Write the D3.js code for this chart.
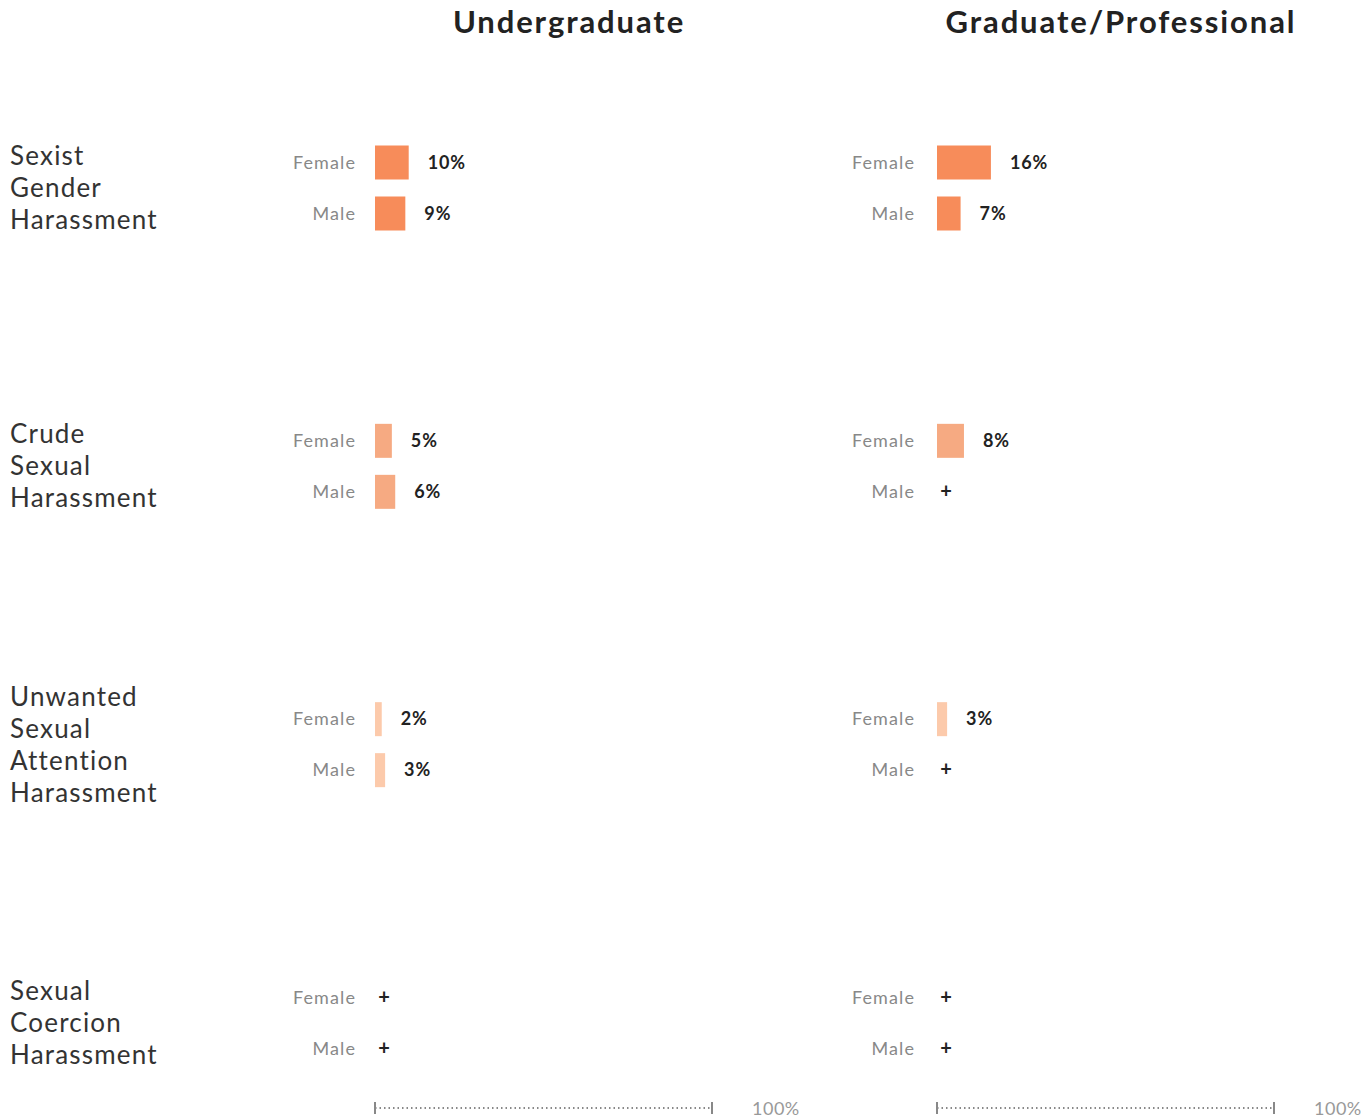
<!DOCTYPE html>
<html><head><meta charset="utf-8">
<script src="https://cdn.jsdelivr.net/npm/d3@7"></script>
<style>body{margin:0;background:#fff;}svg{display:block;}</style>
</head><body>
<script>
const categories = ["Sexist Gender Harassment", "Crude Sexual Harassment", "Unwanted Sexual Attention Harassment", "Sexual Coercion Harassment"];
const levels = ["Undergraduate", "Graduate/Professional"];
const genders = ["Female", "Male"];
// null = suppressed value (shown as "+")
const undergradFemale = [10, 5, 2, null];
const undergradMale = [9, 6, 3, null];
const gradFemale = [16, 8, 3, null];
const gradMale = [7, null, null, null];
const categoryColors = ["#f78c5a", "#f6aa82", "#fccaab", "#fde0cf"];
const axisMaxLabel = "100%";

const values = {
  "Undergraduate": {Female: undergradFemale, Male: undergradMale},
  "Graduate/Professional": {Female: gradFemale, Male: gradMale}
};

const W = 1372, H = 1118;
const svg = d3.select("body").append("svg").attr("width", W).attr("height", H)
  .style("font-family", "Lato, 'Open Sans', sans-serif");

const panelX = d3.scalePoint().domain(levels).range([375, 937]);
const x = d3.scaleLinear().domain([0, 100]).range([0, 337]);
const groupY = d3.scalePoint().domain(categories).range([188, 1023]);
const rowY = d3.scaleBand().domain(genders).range([-42.5, 42.5]).paddingInner(1/3);
const color = d3.scaleOrdinal().domain(categories).range(categoryColors);

// titles
svg.selectAll("text.title").data(levels).join("text")
  .attr("class", "title")
  .attr("x", d => panelX(d) + (d === levels[0] ? 194 : 184))
  .attr("y", 33)
  .attr("text-anchor", "middle")
  .attr("font-size", 31).attr("font-weight", 700).attr("fill", "#222")
  .attr("letter-spacing", 1.9)
  .text(d => d);

// category labels
categories.forEach(c => {
  const words = c.split(" ");
  const lh = 32;
  const t = svg.append("text").attr("font-size", 26).attr("fill", "#333")
    .attr("letter-spacing", 1.2);
  words.forEach((w, i) => {
    t.append("tspan").attr("x", 10)
      .attr("y", groupY(c) + (i - (words.length - 1) / 2) * lh + 9)
      .text(w);
  });
});

levels.forEach(lv => {
  const px = panelX(lv);
  const g = svg.append("g").attr("transform", `translate(${px},0)`);
  categories.forEach((c, ci) => {
    genders.forEach(gn => {
      const v = values[lv][gn][ci];
      const yTop = groupY(c) + rowY(gn);
      const yMid = yTop + rowY.bandwidth() / 2;
      g.append("text").attr("x", lv === levels[0] ? -19 : -22).attr("y", yMid + 6)
        .attr("text-anchor", "end").attr("font-size", 18).attr("fill", "#888")
        .attr("letter-spacing", 1.1)
        .text(gn);
      if (v == null) {
        g.append("text").attr("x", 9).attr("y", yMid + 6)
          .attr("text-anchor", "middle").attr("font-size", 20).attr("font-weight", 700)
          .attr("fill", "#222").text("+");
      } else {
        g.append("rect").attr("x", x(0)).attr("y", yTop)
          .attr("width", x(v)).attr("height", rowY.bandwidth())
          .attr("fill", color(c));
        g.append("text").attr("x", x(v) + 19).attr("y", yMid + 6)
          .attr("font-size", 18).attr("font-weight", 700).attr("fill", "#222")
          .attr("letter-spacing", 0.9)
          .text(v + "%");
      }
    });
  });
  // axis
  const ay = 1108;
  const axis = g.append("g").attr("transform", `translate(0,${ay})`);
  axis.append("line").attr("x1", x(0)).attr("x2", x(100))
    .attr("stroke", "#888").attr("stroke-width", 2).attr("stroke-dasharray", "1.5,3");
  axis.selectAll("line.tick").data([0, 100]).join("line").attr("class", "tick")
    .attr("x1", d => x(d)).attr("x2", d => x(d)).attr("y1", -6).attr("y2", 6)
    .attr("stroke", "#888").attr("stroke-width", 2);
  axis.append("text").attr("x", x(100) + 40).attr("y", 7)
    .attr("font-size", 18).attr("fill", "#999").attr("letter-spacing", 0.5).text(axisMaxLabel);
});
</script>
</body></html>
